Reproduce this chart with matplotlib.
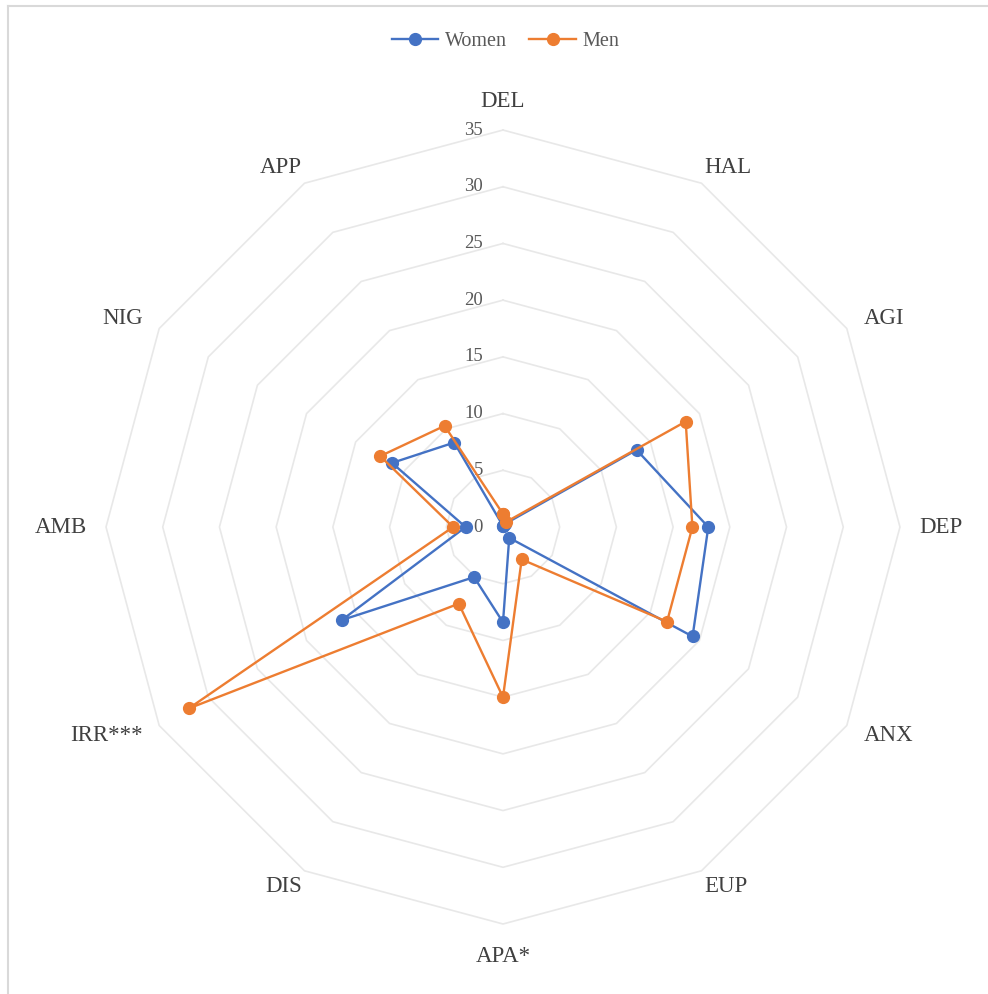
import numpy as np
import matplotlib
matplotlib.use("Agg")
import matplotlib.pyplot as plt
from matplotlib.lines import Line2D
from matplotlib.transforms import offset_copy

# categories, clockwise from the top
categories = ["DEL", "HAL", "AGI", "DEP", "ANX", "EUP", "APA*", "DIS", "IRR***", "AMB", "NIG", "APP"]
women = [0.1, 0.3, 13.6, 18.1, 19.3, 1.1, 8.4, 5.1, 16.4, 3.3, 11.3, 8.6]
men = [1.15, 0.5, 18.6, 16.7, 16.7, 3.3, 15.0, 7.8, 32.0, 4.4, 12.5, 10.3]
ring_ticks = [0, 5, 10, 15, 20, 25, 30, 35]

BLUE = "#4472C4"
ORANGE = "#ED7D31"
GRID = "#e8e8e8"
TEXT = "#404040"
TICK = "#595959"

plt.rcParams["font.family"] = ["Liberation Serif", "DejaVu Serif"]

fig = plt.figure(figsize=(9.88, 9.94), dpi=100)
ax = fig.add_axes([0.1073, 0.0704, 0.8036, 0.7988], projection="polar")
ax.set_theta_zero_location("N")
ax.set_theta_direction(-1)

n = len(categories)
theta = np.linspace(0, 2 * np.pi, n, endpoint=False)
theta_c = np.append(theta, theta[0])

# polygon grid rings (Excel style)
for r in ring_ticks[1:]:
    ax.plot(theta_c, [r] * (n + 1), color=GRID, lw=1.2, zorder=1, clip_on=False)

ax.grid(False)
ax.spines["polar"].set_visible(False)
ax.set_xticks([])
ax.set_yticks([])
ax.set_ylim(0, 35)

# value labels along the top axis
lab_tr = offset_copy(ax.transData, fig=fig, x=-20, y=0, units="dots")
for r in ring_ticks:
    ax.text(0, r, str(r), transform=lab_tr, ha="right", va="center",
            fontsize=13.5, color=TICK)

# category labels, anchored by their nearest edge like Excel does
for t, name in zip(theta, categories):
    s, c = np.sin(t), np.cos(t)
    ha = "left" if s > 0.1 else ("right" if s < -0.1 else "center")
    if abs(c) > 0.99:
        va = "bottom" if c > 0 else "top"
        rr = 36.6 if c > 0 else 36.9
    elif abs(c) > 0.6:
        va = "bottom" if c > 0 else "top"
        rr = 35.5
    else:
        va = "center"
        rr = 36.7
    ax.text(t, rr, name, ha=ha, va=va, fontsize=16.5,
            color=TEXT, clip_on=False)

for vals, col, lab in [(women, BLUE, "Women"), (men, ORANGE, "Men")]:
    ax.plot(theta_c, vals + vals[:1], color=col, lw=1.7, marker="o",
            markersize=8.5, label=lab, zorder=3, clip_on=False)

fig.legend(loc="upper center", bbox_to_anchor=(0.512, 0.986), ncol=2,
           frameon=False, fontsize=14.5, labelcolor=TICK, handlelength=2.3,
           columnspacing=1.1, handletextpad=0.35)

# chart area border (only left/top visible in the crop)
fig.add_artist(Line2D([7.5 / 988, 7.5 / 988], [0, 1 - 6 / 994], color="#d9d9d9", lw=1.5))
fig.add_artist(Line2D([7.5 / 988, 1], [1 - 6 / 994, 1 - 6 / 994], color="#d9d9d9", lw=1.5))

fig.savefig("out.png", dpi=100)
